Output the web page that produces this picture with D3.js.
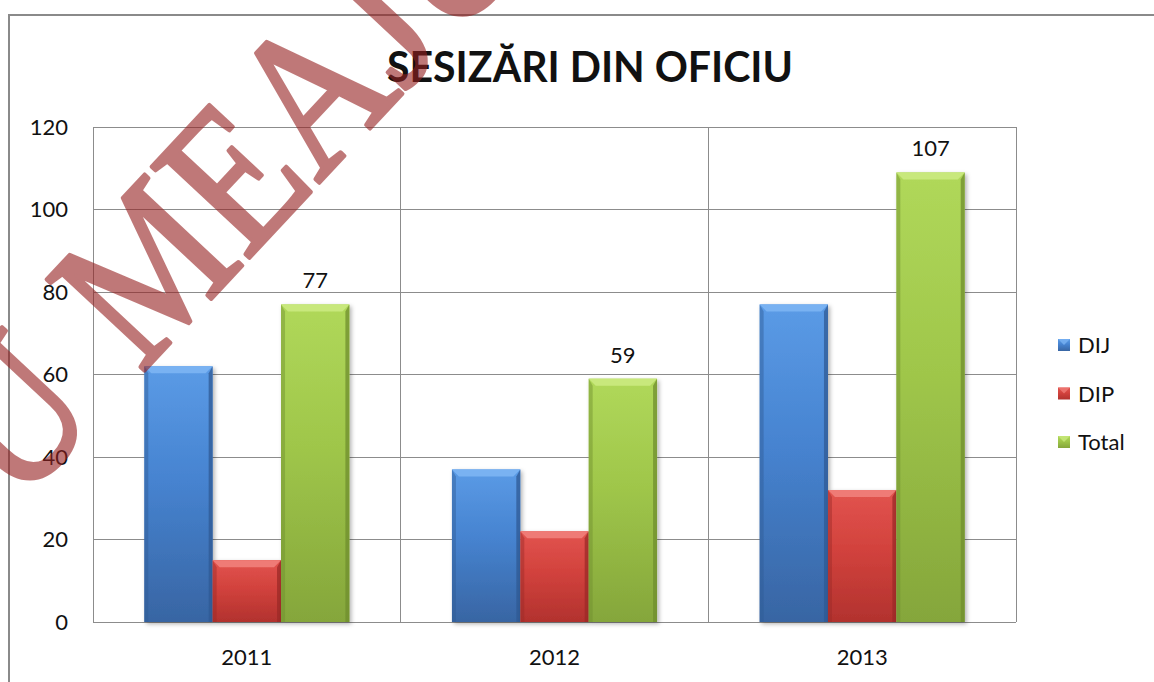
<!DOCTYPE html>
<html>
<head>
<meta charset="utf-8">
<script src="https://cdn.jsdelivr.net/npm/d3@7"></script>
<style>
  body { margin: 0; background: #fff; }
  text { font-family: Lato, "Open Sans", sans-serif; fill: #111; }
</style>
</head>
<body>
<svg width="1154" height="682"></svg>
<script>
// data
const categories = ["2011", "2012", "2013"];
const seriesNames = ["DIJ", "DIP", "Total"];
const dijValues = [62, 37, 77];
const dipValues = [15, 22, 32];
const totalValues = [77, 59, 109];
const totalLabels = ["77", "59", "107"];
const yTicks = [0, 20, 40, 60, 80, 100, 120];

const svg = d3.select("svg");
const plotLeft = 93, plotRight = 1016, plotTop = 127, plotBottom = 622;

const colors = {
  DIJ:   { hi: "#5b9be6", mid: "#4683d0", lo: "#3865a3", bevel: "#79b2f2", edge: "#2f5a94" },
  DIP:   { hi: "#e2544f", mid: "#d2423d", lo: "#b2322e", bevel: "#ef7b76", edge: "#9c2a27" },
  Total: { hi: "#b0d85a", mid: "#9fc64a", lo: "#85a63b", bevel: "#c8e87c", edge: "#6f8d2e" }
};

const x = d3.scaleBand().domain(categories).range([plotLeft, plotRight]);
const xs = d3.scaleBand().domain(seriesNames).range([0, x.bandwidth()]).paddingOuter(0.75);
const y = d3.scaleLinear().domain([0, 120]).range([plotBottom, plotTop]);

const defs = svg.append("defs");
seriesNames.forEach(s => {
  const g = defs.append("linearGradient").attr("id", "g" + s)
    .attr("x1", 0).attr("y1", 0).attr("x2", 0).attr("y2", 1);
  g.append("stop").attr("offset", "0%").attr("stop-color", colors[s].hi);
  g.append("stop").attr("offset", "45%").attr("stop-color", colors[s].mid);
  g.append("stop").attr("offset", "100%").attr("stop-color", colors[s].lo);
});
const f = defs.append("filter").attr("id", "shadow").attr("x", "-20%").attr("y", "-20%")
  .attr("width", "150%").attr("height", "150%");
f.append("feDropShadow").attr("dx", 2).attr("dy", 2).attr("stdDeviation", 2)
  .attr("flood-color", "#000").attr("flood-opacity", 0.3);

// outer chart frame
svg.append("rect").attr("x", 9).attr("y", 15).attr("width", 1200).attr("height", 700)
  .attr("fill", "none").attr("stroke", "#8a8a8a").attr("stroke-width", 2);

// gridlines
svg.append("g").selectAll("line").data(yTicks).enter().append("line")
  .attr("x1", plotLeft).attr("x2", plotRight)
  .attr("y1", d => y(d)).attr("y2", d => y(d))
  .attr("stroke", "#8c8c8c").attr("stroke-width", 1).attr("shape-rendering", "crispEdges");
svg.append("g").selectAll("line").data(categories.map(c => x(c)).concat([plotRight])).enter().append("line")
  .attr("x1", d => d).attr("x2", d => d).attr("y1", plotTop).attr("y2", plotBottom)
  .attr("stroke", "#8c8c8c").attr("stroke-width", 1).attr("shape-rendering", "crispEdges");

// y axis labels
const yAxis = d3.axisLeft(y).tickValues(yTicks).tickSize(0).tickPadding(25);
const ya = svg.append("g").attr("transform", "translate(" + plotLeft + ",0)").call(yAxis);
ya.select(".domain").remove();
ya.selectAll("text").style("font-family", "Lato, sans-serif").style("font-size", "22px").style("fill", "#111");

// x axis labels
const xAxis = d3.axisBottom(x).tickSize(0).tickPadding(27);
const xa = svg.append("g").attr("transform", "translate(0," + plotBottom + ")").call(xAxis);
xa.select(".domain").remove();
xa.selectAll("text").style("font-family", "Lato, sans-serif").style("font-size", "22px").style("fill", "#111");

// bars
const rows = [];
categories.forEach((c, i) => {
  rows.push({ cat: c, s: "DIJ", v: dijValues[i] });
  rows.push({ cat: c, s: "DIP", v: dipValues[i] });
  rows.push({ cat: c, s: "Total", v: totalValues[i] });
});
const b = 7;
const bars = svg.append("g").selectAll("g").data(rows).enter().append("g");
bars.append("rect")
  .attr("x", d => x(d.cat) + xs(d.s)).attr("y", d => y(d.v))
  .attr("width", xs.bandwidth()).attr("height", d => y(0) - y(d.v))
  .attr("fill", d => "url(#g" + d.s + ")").attr("filter", "url(#shadow)");
bars.append("polygon") // top bevel
  .attr("points", d => {
    const x0 = x(d.cat) + xs(d.s), x1 = x0 + xs.bandwidth(), y0 = y(d.v);
    return [[x0, y0], [x1, y0], [x1 - b, y0 + b], [x0 + b, y0 + b]].join(" ");
  })
  .attr("fill", d => colors[d.s].bevel);
bars.append("polygon") // left bevel
  .attr("points", d => {
    const x0 = x(d.cat) + xs(d.s), y0 = y(d.v);
    return [[x0, y0], [x0 + b - 3, y0 + b], [x0 + b - 3, y(0)], [x0, y(0)]].join(" ");
  })
  .attr("fill", d => colors[d.s].edge).attr("opacity", 0.45);
bars.append("polygon") // right bevel
  .attr("points", d => {
    const x1 = x(d.cat) + xs(d.s) + xs.bandwidth(), y0 = y(d.v);
    return [[x1, y0], [x1 - b + 3, y0 + b], [x1 - b + 3, y(0)], [x1, y(0)]].join(" ");
  })
  .attr("fill", d => colors[d.s].edge).attr("opacity", 0.75);

// value labels on Total
svg.append("g").selectAll("text").data(categories).enter().append("text")
  .attr("x", c => x(c) + xs("Total") + xs.bandwidth() / 2)
  .attr("y", (c, i) => y(totalValues[i]) - 16)
  .attr("text-anchor", "middle").style("font-size", "22px")
  .text((c, i) => totalLabels[i]);

// legend
const lg = svg.append("g").selectAll("g").data(seriesNames).enter().append("g")
  .attr("transform", (d, i) => "translate(1058," + (345 + i * 48.5) + ")");
lg.append("rect").attr("x", 0).attr("y", -6).attr("width", 12).attr("height", 12)
  .attr("fill", d => "url(#g" + d + ")");
lg.append("polygon").attr("points", "0,-6 12,-6 6,0").attr("fill", d => colors[d].bevel).attr("opacity", 0.8);
lg.append("text").attr("x", 20).attr("y", 8).style("font-size", "22px").text(d => d);

// title
svg.append("text").attr("x", 590).attr("y", 82).attr("text-anchor", "middle")
  .style("font-size", "42px").style("font-weight", "bold")
  .attr("textLength", 406).attr("lengthAdjust", "spacingAndGlyphs")
  .text("SESIZĂRI DIN OFICIU");

// watermark stamped over the picture
const wm = svg.append("g").attr("opacity", 0.6)
  .append("text").attr("transform", "translate(17,507) rotate(-47) scale(0.85,1)")
  .style("font-family", "'Liberation Serif', serif").style("font-size", "204px")
  .style("fill", "#952020").style("stroke", "#952020").style("stroke-width", 4)
  .style("stroke-linejoin", "round");
wm.append("tspan").text("U");
wm.append("tspan").attr("dx", 66).text("MEAJU");
</script>
</body>
</html>
